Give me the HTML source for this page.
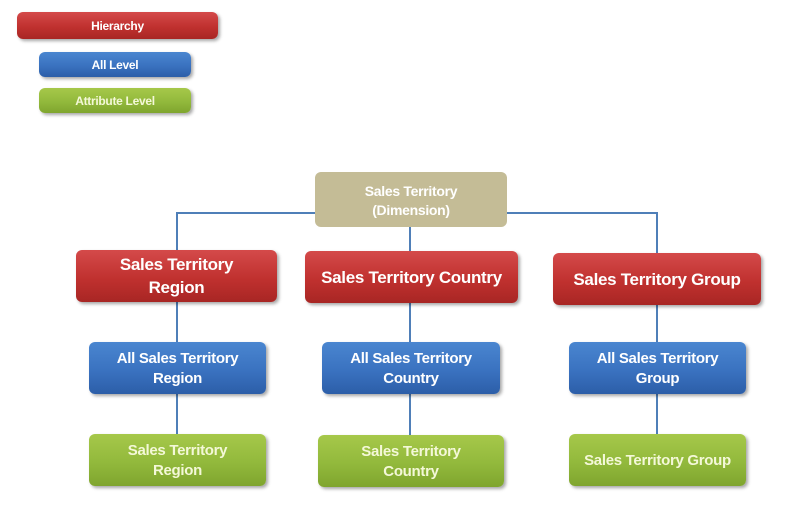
<!DOCTYPE html>
<html><head><style>
body{margin:0;width:806px;height:515px;background:#fff;position:relative;overflow:hidden;font-family:"Liberation Sans",sans-serif;font-weight:bold;}
.b{position:absolute;display:flex;align-items:center;justify-content:center;text-align:center;color:#fff;border-radius:6px;box-shadow:2px 2px 3px rgba(0,0,0,0.35);line-height:1.35;letter-spacing:-0.3px;padding-top:2px;box-sizing:border-box}
.r{background:linear-gradient(#d44a4a,#c0312f 55%,#a82624);}
.u{background:linear-gradient(#4a86d0,#3a72c0 55%,#2c5ea8);}
.g{background:linear-gradient(#a6c84a,#92b93c 55%,#7fa52e);}
.t{background:#c4bc96;box-shadow:none;}
.l{position:absolute;background:#4f7fb8;}
</style></head><body>
<div class="b r" style="left:17px;top:12px;width:201px;height:27px;font-size:12px">Hierarchy</div>
<div class="b u" style="left:39px;top:52px;width:152px;height:25px;font-size:12px">All Level</div>
<div class="b g" style="left:39px;top:88px;width:152px;height:25px;font-size:12px;color:#f4f8d8">Attribute Level</div>

<div class="l" style="left:177px;top:212px;width:138px;height:2px"></div>
<div class="l" style="left:507px;top:212px;width:151px;height:2px"></div>
<div class="l" style="left:176px;top:212px;width:2px;height:260px"></div>
<div class="l" style="left:409px;top:227px;width:2px;height:240px"></div>
<div class="l" style="left:656px;top:212px;width:2px;height:260px"></div>

<div class="b t" style="left:315px;top:172px;width:192px;height:55px;font-size:14px">Sales Territory<br>(Dimension)</div>

<div class="b r" style="left:76px;top:250px;width:201px;height:52px;font-size:17px">Sales Territory<br>Region</div>
<div class="b r" style="left:305px;top:251px;width:213px;height:52px;font-size:17px">Sales Territory Country</div>
<div class="b r" style="left:553px;top:253px;width:208px;height:52px;font-size:17px">Sales Territory Group</div>

<div class="b u" style="left:89px;top:342px;width:177px;height:52px;font-size:15px">All Sales Territory<br>Region</div>
<div class="b u" style="left:322px;top:342px;width:178px;height:52px;font-size:15px">All Sales Territory<br>Country</div>
<div class="b u" style="left:569px;top:342px;width:177px;height:52px;font-size:15px">All Sales Territory<br>Group</div>

<div class="b g" style="left:89px;top:434px;width:177px;height:52px;font-size:15px;color:#f4f8d8">Sales Territory<br>Region</div>
<div class="b g" style="left:318px;top:435px;width:186px;height:52px;font-size:15px;color:#f4f8d8">Sales Territory<br>Country</div>
<div class="b g" style="left:569px;top:434px;width:177px;height:52px;font-size:15px;color:#f4f8d8">Sales Territory Group</div>
</body></html>
